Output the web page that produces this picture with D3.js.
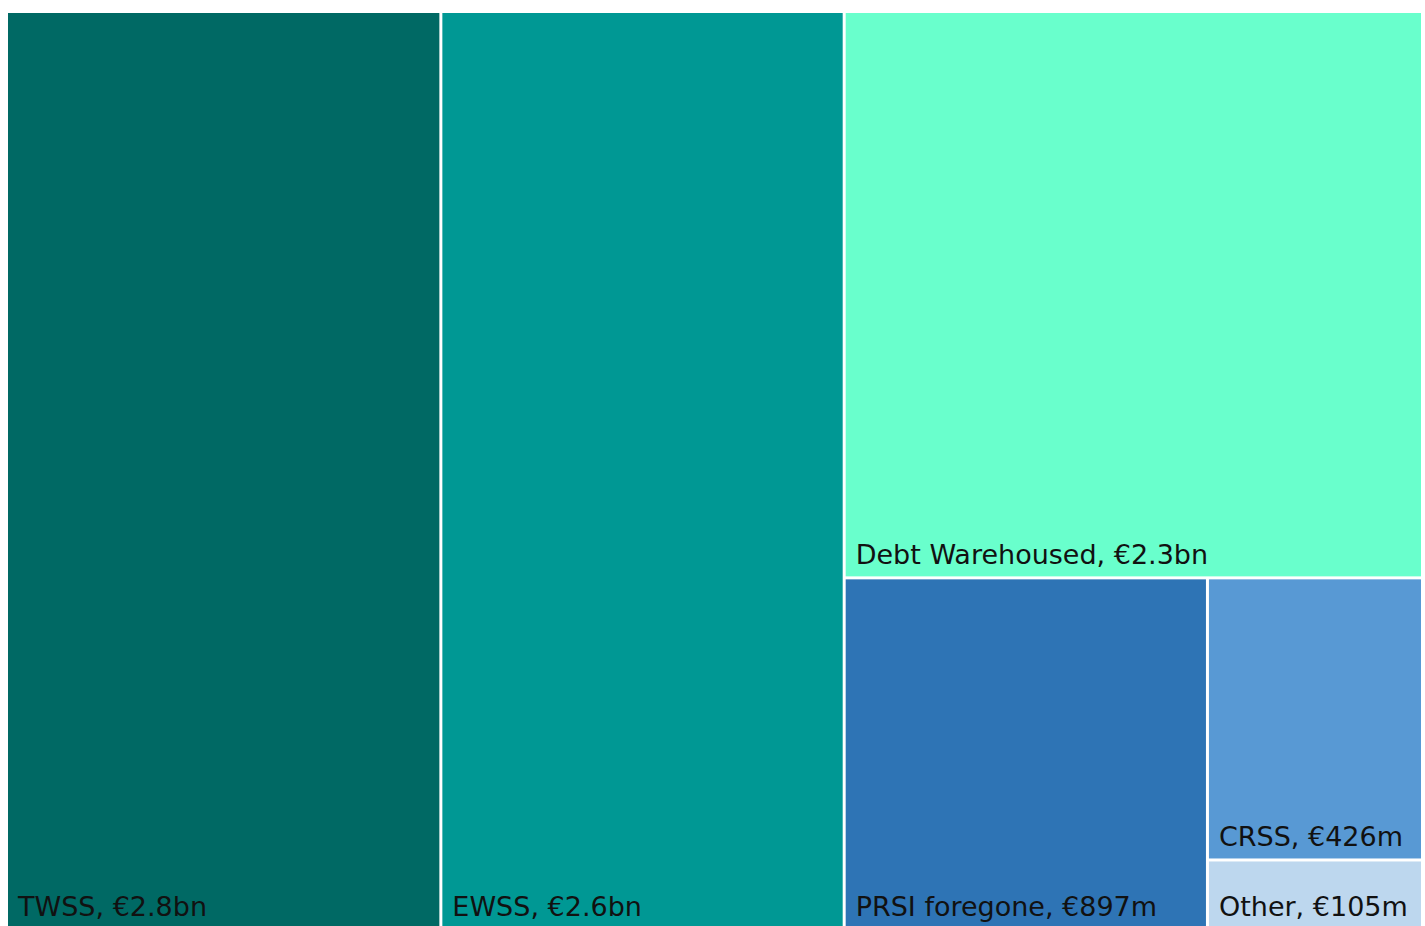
<!DOCTYPE html>
<html>
<head>
<meta charset="utf-8">
<script src="https://cdn.jsdelivr.net/npm/d3@7"></script>
<style>
  html, body { margin: 0; padding: 0; background: #fff; overflow: hidden; }
  svg { display: block; }
  text { font-family: "DejaVu Sans", Verdana, sans-serif; }
</style>
</head>
<body>
<svg id="chart" width="1425" height="926"></svg>
<script>
// Data (values in € millions)
const categories = ["TWSS", "EWSS", "Debt Warehoused", "PRSI foregone", "CRSS", "Other"];
const values = [2800, 2600, 2300, 897, 426, 105];
const valueLabels = ["€2.8bn", "€2.6bn", "€2.3bn", "€897m", "€426m", "€105m"];
const colors = ["#006964", "#009894", "#69FFCC", "#2E74B5", "#5899D4", "#BDD7EE"];

// Nesting of tiles (index into the arrays above)
const leaf = i => ({ name: categories[i], value: values[i], label: valueLabels[i], color: colors[i] });
const tree = {
  name: "root",
  children: [
    leaf(0),
    leaf(1),
    { name: "g1", children: [
      leaf(2),
      { name: "g2", children: [
        leaf(3),
        { name: "g3", children: [leaf(4), leaf(5)] }
      ]}
    ]}
  ]
};

const svg = d3.select("#chart");
const x0 = 8, y0 = 13, x1 = 1421, y1 = 928;

const root = d3.hierarchy(tree).sum(d => d.value || 0);
d3.treemap()
  .tile(d3.treemapSliceDice)
  .size([x1 - x0, y1 - y0])
  .paddingInner(3)
  .round(false)(root);

const g = svg.append("g").attr("transform", `translate(${x0},${y0})`);
const leaves = g.selectAll("g.cell").data(root.leaves()).join("g").attr("class", "cell");

leaves.append("rect")
  .attr("x", d => d.x0)
  .attr("y", d => d.y0)
  .attr("width", d => d.x1 - d.x0)
  .attr("height", d => d.y1 - d.y0)
  .attr("fill", d => d.data.color);

leaves.append("text")
  .attr("x", d => d.x0 + 10)
  .attr("y", d => d.y1 - 12)
  .attr("font-size", "27px")
  .attr("fill", "#111")
  .text(d => `${d.data.name}, ${d.data.label}`);
</script>
</body>
</html>
